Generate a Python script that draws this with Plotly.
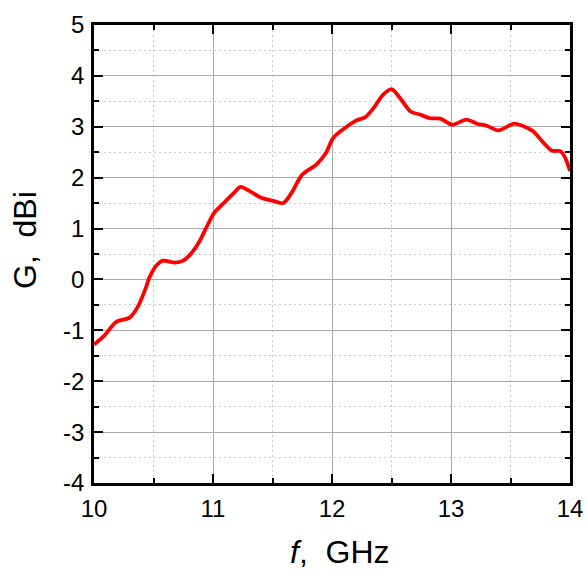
import plotly.graph_objects as go

freq_ghz = [10.0, 10.08, 10.19, 10.30, 10.37, 10.43, 10.47, 10.53, 10.58, 10.68, 10.75, 10.82, 10.88, 10.95,
            11.01, 11.09, 11.18, 11.23, 11.32, 11.40, 11.51, 11.59, 11.66, 11.75, 11.87, 11.95,
            12.01, 12.10, 12.21, 12.28, 12.35, 12.43, 12.50, 12.57, 12.66, 12.74, 12.82, 12.91,
            13.01, 13.13, 13.22, 13.30, 13.40, 13.53, 13.61, 13.69, 13.78, 13.85, 13.92, 13.96, 14.0]
gain_dbi = [-1.28, -1.12, -0.83, -0.75, -0.53, -0.20, 0.06, 0.29, 0.37, 0.33, 0.37, 0.52, 0.72, 1.05,
            1.31, 1.50, 1.71, 1.82, 1.72, 1.61, 1.54, 1.50, 1.70, 2.06, 2.26, 2.49,
            2.78, 2.96, 3.13, 3.19, 3.37, 3.63, 3.74, 3.57, 3.30, 3.24, 3.17, 3.16,
            3.04, 3.14, 3.06, 3.02, 2.93, 3.06, 3.01, 2.91, 2.68, 2.53, 2.52, 2.39, 2.13]
x_ticks = [10, 11, 12, 13, 14]
x_labels = ["10", "11", "12", "13", "14"]
y_ticks = [-4, -3, -2, -1, 0, 1, 2, 3, 4, 5]
y_labels = ["-4", "-3", "-2", "-1", "0", "1", "2", "3", "4", "5"]
x_title = "<i>f</i>,\u00a0\u00a0GHz"
y_title = "G,\u00a0\u00a0dBi"

FONT = "Liberation Sans, Arial, sans-serif"

fig = go.Figure()
fig.add_trace(go.Scatter(x=freq_ghz, y=gain_dbi, mode="lines",
                         line=dict(color="#ff0000", width=3.8, shape="spline", smoothing=0.8),
                         showlegend=False))

minor_common = dict(dtick=0.5, ticks="inside", ticklen=5, tickwidth=1.5, tickcolor="black",
                    showgrid=True, gridcolor="#c8c8c8", griddash="2px,3px", gridwidth=1)
axis_common = dict(
    showline=True, linecolor="black", linewidth=2.5, mirror="allticks",
    ticks="inside", ticklen=9, tickwidth=2, tickcolor="black",
    showgrid=True, gridcolor="#aaaaaa", gridwidth=1.3,
    zeroline=False, ticklabelstandoff=2, automargin=False,
    tickfont=dict(family=FONT, size=24, color="black"),
)

fig.update_xaxes(**axis_common, range=[10, 14], tickvals=x_ticks, ticktext=x_labels, minor=minor_common)
fig.update_yaxes(**axis_common, range=[-4, 5], tickvals=y_ticks, ticktext=y_labels, minor=minor_common)

fig.add_annotation(text=x_title, xref="paper", yref="paper", x=(340 - 94) / 476, y=-(552 - 483) / 458,
                   xanchor="center", yanchor="middle", showarrow=False,
                   font=dict(family=FONT, size=32, color="black"))
fig.add_annotation(text=y_title, xref="paper", yref="paper", x=-(94 - 25) / 476, y=(483 - 240) / 458,
                   xanchor="center", yanchor="middle", showarrow=False, textangle=-90,
                   font=dict(family=FONT, size=32, color="black"))

fig.update_layout(width=587, height=573, autosize=False, margin=dict(l=94, r=17, t=25, b=90),
                  plot_bgcolor="white", paper_bgcolor="white")

fig.write_html("out.html", config={"responsive": False, "displayModeBar": False},
               post_script="document.body.style.margin='0px';document.body.style.overflow='hidden';")
